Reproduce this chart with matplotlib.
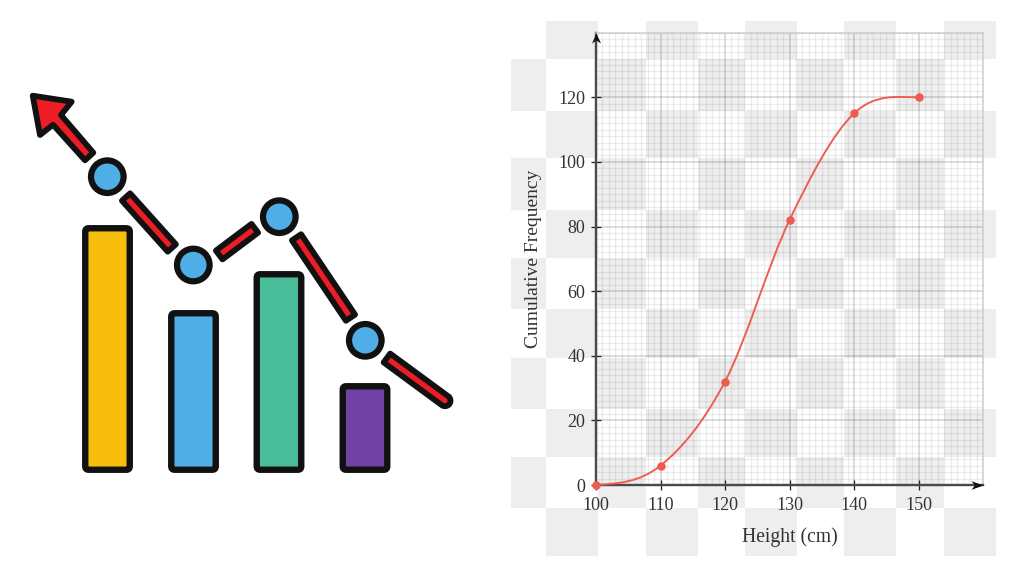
import numpy as np
import matplotlib
matplotlib.use("Agg")
import matplotlib.pyplot as plt
from matplotlib.colors import ListedColormap
from matplotlib.patches import Circle, FancyBboxPatch, PathPatch, Polygon
from matplotlib.path import Path
from matplotlib.ticker import MultipleLocator

# Cumulative frequency data
heights_cm = [100, 110, 120, 130, 140, 150]
cumulative_freq = [0, 6, 32, 82, 115, 120]
x_ticks = [100, 110, 120, 130, 140, 150]
y_ticks = [0, 20, 40, 60, 80, 100, 120]

# Checkered backdrop edges (pixels)
checker_x = [511, 546, 598, 646, 698, 745, 797, 844, 896, 944, 996]
checker_y = [21, 59, 111, 158, 210, 258, 309, 358, 409, 457, 508, 556]

# Bar-and-trend icon (pixels)
bar_centers = [107.5, 193.5, 279, 365]
bar_heights = [241.5, 156.5, 195.5, 83.5]
bar_colors = ["#F7BE0E", "#4FAEE6", "#49BD9A", "#6F42A3"]
trend_x = [107.3, 193.3, 279.3, 365.3]
trend_y = [176.7, 265, 216.7, 340.3]
arrow_outline = [(32.7, 95.7), (71.7, 101.7), (61, 115), (93.3, 152.7),
                 (85, 160.3), (53, 124.7), (40, 135)]
dash_ends = [((126, 197), (171.8, 248)),
             ((219.2, 255), (254.8, 228.3)),
             ((296.5, 237.3), (350.5, 317.7))]
last_dash = ((386.9, 358), (445, 400.7))

W, H, DPI = 1024, 573, 100
PX = 72 / DPI
INK = "#111111"
RED = "#EE1C25"
BASELINE = 469.75
BAR_WIDTH = 44.5
STROKE = 6.4 * PX
DASH_STROKE = 5.8 * PX
CURVE = "#EF5B50"
AXIS = "#4A4A4A"
TEXT = "#333333"

plt.rcParams["font.family"] = ["Liberation Serif", "DejaVu Serif"]
fig = plt.figure(figsize=(W / DPI, H / DPI), dpi=DPI, facecolor="white")

canvas = fig.add_axes([0, 0, 1, 1], zorder=0)
canvas.set_xlim(0, W)
canvas.set_ylim(H, 0)
canvas.axis("off")

# Alternating light squares behind the chart
cells = np.fromfunction(lambda r, c: (r + c) % 2,
                        (len(checker_y) - 1, len(checker_x) - 1))
canvas.pcolormesh(checker_x, checker_y, cells,
                  cmap=ListedColormap(["#FFFFFF", "#EEEEEE"]), vmin=0, vmax=1)

# Icon: rounded bars
for cx, h, color in zip(bar_centers, bar_heights, bar_colors):
    canvas.add_patch(FancyBboxPatch(
        (cx - BAR_WIDTH / 2, BASELINE - h), BAR_WIDTH, h,
        boxstyle="round,pad=0,rounding_size=3.5",
        facecolor=color, edgecolor=INK, linewidth=STROKE))

# Icon: broken trend line with its arrow head
canvas.add_patch(Polygon(arrow_outline, closed=True, facecolor=RED, edgecolor=INK,
                         linewidth=DASH_STROKE, joinstyle="round"))


def dash_polygon(p0, p1, half_width=5.5, round_far_end=False):
    p0, p1 = np.array(p0, float), np.array(p1, float)
    d = (p1 - p0) / np.hypot(*(p1 - p0))
    n = np.array([-d[1], d[0]])
    if round_far_end:
        base = np.arctan2(n[1], n[0])
        angles = np.linspace(base, base - np.pi, 24)
        arc = [p1 + half_width * np.array([np.cos(a), np.sin(a)]) for a in angles]
    else:
        arc = [p1 + half_width * n, p1 - half_width * n]
    return np.array([p0 + half_width * n, *arc, p0 - half_width * n])


for p0, p1 in dash_ends:
    canvas.add_patch(Polygon(dash_polygon(p0, p1), closed=True, facecolor=RED,
                             edgecolor=INK, linewidth=DASH_STROKE, joinstyle="round"))
canvas.add_patch(Polygon(dash_polygon(*last_dash, round_far_end=True), closed=True,
                         facecolor=RED, edgecolor=INK, linewidth=DASH_STROKE,
                         joinstyle="round"))

for cx, cy in zip(trend_x, trend_y):
    canvas.add_patch(Circle((cx, cy), 16.3, facecolor="#4FAEE6", edgecolor=INK,
                            linewidth=6.2 * PX))

# Chart axes
left, right, top, bottom = 596, 983, 32.7, 485
ax = fig.add_axes([left / W, (H - bottom) / H, (right - left) / W, (bottom - top) / H],
                  zorder=1)
ax.patch.set_alpha(0)
ax.set_xlim(100, 160)
ax.set_ylim(0, 140)

ax.xaxis.set_minor_locator(MultipleLocator(1))
ax.yaxis.set_minor_locator(MultipleLocator(2))
ax.grid(which="minor", color="black", alpha=0.065, linewidth=1.3 * PX)
ax.grid(which="major", color="black", alpha=0.16, linewidth=1.6 * PX)
ax.set_axisbelow(True)
ax.tick_params(which="minor", length=0)

ax.set_xticks(x_ticks)
ax.set_yticks(y_ticks)
ax.tick_params(which="major", direction="inout", length=10 * PX, width=1.3 * PX,
               color="#222222", labelsize=13, labelcolor=TEXT)
ax.tick_params(axis="y", which="major", pad=4)
ax.tick_params(axis="x", which="major", pad=5)

for name in ("top", "right"):
    ax.spines[name].set_color("#CCCCCC")
    ax.spines[name].set_linewidth(1.5 * PX)
for name in ("left", "bottom"):
    ax.spines[name].set_color(AXIS)
    ax.spines[name].set_linewidth(2.4 * PX)

# Arrow heads closing both axes
head_right = Path([(0, 0), (-2, 0.72), (-1.45, 0), (-2, -0.72), (0, 0)], closed=True)
head_up = Path([(0, 0), (-0.9, -2), (0, -1.4), (0.9, -2), (0, 0)], closed=True)
ax.plot([1], [0], marker=head_right, markersize=24 * PX, color="#111111", mew=0,
        transform=ax.transAxes, clip_on=False, zorder=5)
ax.plot([0], [1], marker=head_up, markersize=20 * PX, color="#111111", mew=0,
        transform=ax.transAxes, clip_on=False, zorder=5)

# Smooth curve through the points, with Catmull-Rom tangents and flat ends
xs = np.array(heights_cm, float)
ys = np.array(cumulative_freq, float)
slopes = np.zeros_like(ys)
slopes[1:-1] = (ys[2:] - ys[:-2]) / (xs[2:] - xs[:-2])
slopes[0] = 0.15
verts = [(xs[0], ys[0])]
codes = [Path.MOVETO]
for i in range(len(xs) - 1):
    dx = (xs[i + 1] - xs[i]) / 3
    verts += [(xs[i] + dx, ys[i] + slopes[i] * dx),
              (xs[i + 1] - dx, ys[i + 1] - slopes[i + 1] * dx),
              (xs[i + 1], ys[i + 1])]
    codes += [Path.CURVE4] * 3
ax.add_patch(PathPatch(Path(verts, codes), facecolor="none", edgecolor=CURVE,
                       linewidth=1.9 * PX, zorder=6, clip_on=False))
ax.plot(heights_cm, cumulative_freq, linestyle="none", marker="o", color=CURVE,
        markersize=8.5 * PX, mew=0, clip_on=False, zorder=7)

# Axis titles
canvas.text(789.5, 537, "Height (cm)", ha="center", va="center", fontsize=14.1, color=TEXT)
canvas.text(533.5, 259, "Cumulative Frequency", ha="center", va="center",
            rotation=90, fontsize=14, color=TEXT)

fig.savefig("out.png", dpi=DPI)
